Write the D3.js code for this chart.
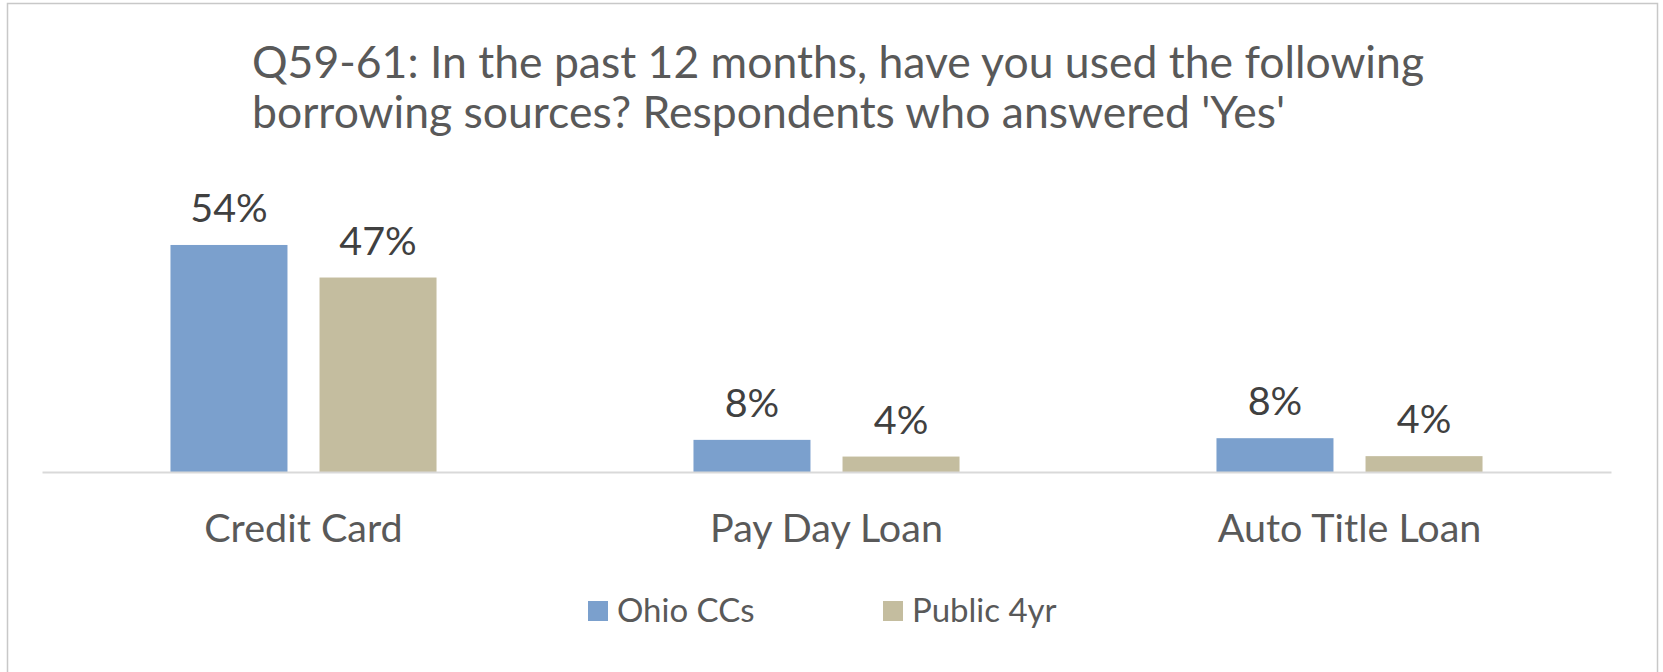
<!DOCTYPE html>
<html lang="en">
<head>
<meta charset="utf-8">
<title>Q59-61 borrowing sources</title>
<script src="https://cdn.jsdelivr.net/npm/d3@7"></script>
<style>
  body { margin: 0; background: #fff; }
  svg { display: block; font-family: Lato, "Open Sans", sans-serif; }
</style>
</head>
<body>
<script>
// data
var categories = ["Credit Card", "Pay Day Loan", "Auto Title Loan"];
var seriesNames = ["Ohio CCs", "Public 4yr"];
var ohioCCs = [0.544, 0.077, 0.081];
var public4yr = [0.466, 0.037, 0.038];
var titleLines = ["Q59-61: In the past 12 months, have you used the following",
                  "borrowing sources? Respondents who answered 'Yes'"];

var w = 1663, h = 672;
var colors = d3.scaleOrdinal().domain(seriesNames).range(["#7ba0cd", "#c4bd9f"]);

var rows = categories.map(function(c, i) {
  return { cat: c, values: [ohioCCs[i], public4yr[i]] };
});

var svg = d3.select("body").append("svg")
  .attr("width", w)
  .attr("height", h);

// outer chart border
svg.append("rect")
  .attr("x", 7.5).attr("y", 3.5)
  .attr("width", 1650).attr("height", 720)
  .attr("fill", "#fff")
  .attr("stroke", "#c8c8c8")
  .attr("stroke-width", 1.5);

// title
svg.append("g").selectAll("text")
  .data(titleLines)
  .join("text")
  .attr("x", 252)
  .attr("y", function(d, i) { return 78 + i * 50; })
  .attr("fill", "#595959")
  .style("font-size", "44.5px")
  .text(function(d) { return d; });

var x0 = d3.scaleBand().domain(categories).range([42, 1611]).padding(0);
var x1 = d3.scaleBand().domain(seriesNames).range([0, x0.bandwidth()])
  .paddingInner(0.215).paddingOuter(0.862);
var y = d3.scaleLinear().domain([0, 0.6]).range([472, 221.6]);

var groups = svg.append("g").selectAll("g")
  .data(rows)
  .join("g")
  .attr("transform", function(d) { return "translate(" + x0(d.cat) + ",0)"; });

var bars = groups.selectAll("g")
  .data(function(d) { return d.values.map(function(v, i) { return { s: seriesNames[i], v: v }; }); })
  .join("g");

bars.append("rect")
  .attr("x", function(d) { return x1(d.s); })
  .attr("y", function(d) { return y(d.v); })
  .attr("width", x1.bandwidth())
  .attr("height", function(d) { return y(0) - y(d.v); })
  .attr("fill", function(d) { return colors(d.s); });

bars.append("text")
  .attr("x", function(d) { return x1(d.s) + x1.bandwidth() / 2; })
  .attr("y", function(d) { return y(d.v) - 23; })
  .attr("text-anchor", "middle")
  .attr("fill", "#404040")
  .style("font-size", "39.5px")
  .text(function(d) { return d3.format(".0%")(d.v); });

// category axis
var axis = svg.append("g")
  .attr("transform", "translate(0," + y(0) + ")")
  .call(d3.axisBottom(x0).tickSize(0).tickSizeOuter(0));
axis.select(".domain").attr("stroke", "#d9d9d9").attr("stroke-width", 2);
axis.selectAll("text")
  .attr("y", 70).attr("dy", null)
  .attr("fill", "#595959")
  .style("font-family", "Lato, sans-serif")
  .style("font-size", "39.5px");

// legend
var legendX = [588, 883];
var legend = svg.append("g").selectAll("g")
  .data(seriesNames)
  .join("g")
  .attr("transform", function(d, i) { return "translate(" + legendX[i] + ",601)"; });
legend.append("rect")
  .attr("width", 20).attr("height", 20)
  .attr("fill", function(d) { return colors(d); });
legend.append("text")
  .attr("x", 29).attr("y", 21)
  .attr("fill", "#595959")
  .style("font-size", "33px")
  .text(function(d) { return d; });
</script>
</body>
</html>
